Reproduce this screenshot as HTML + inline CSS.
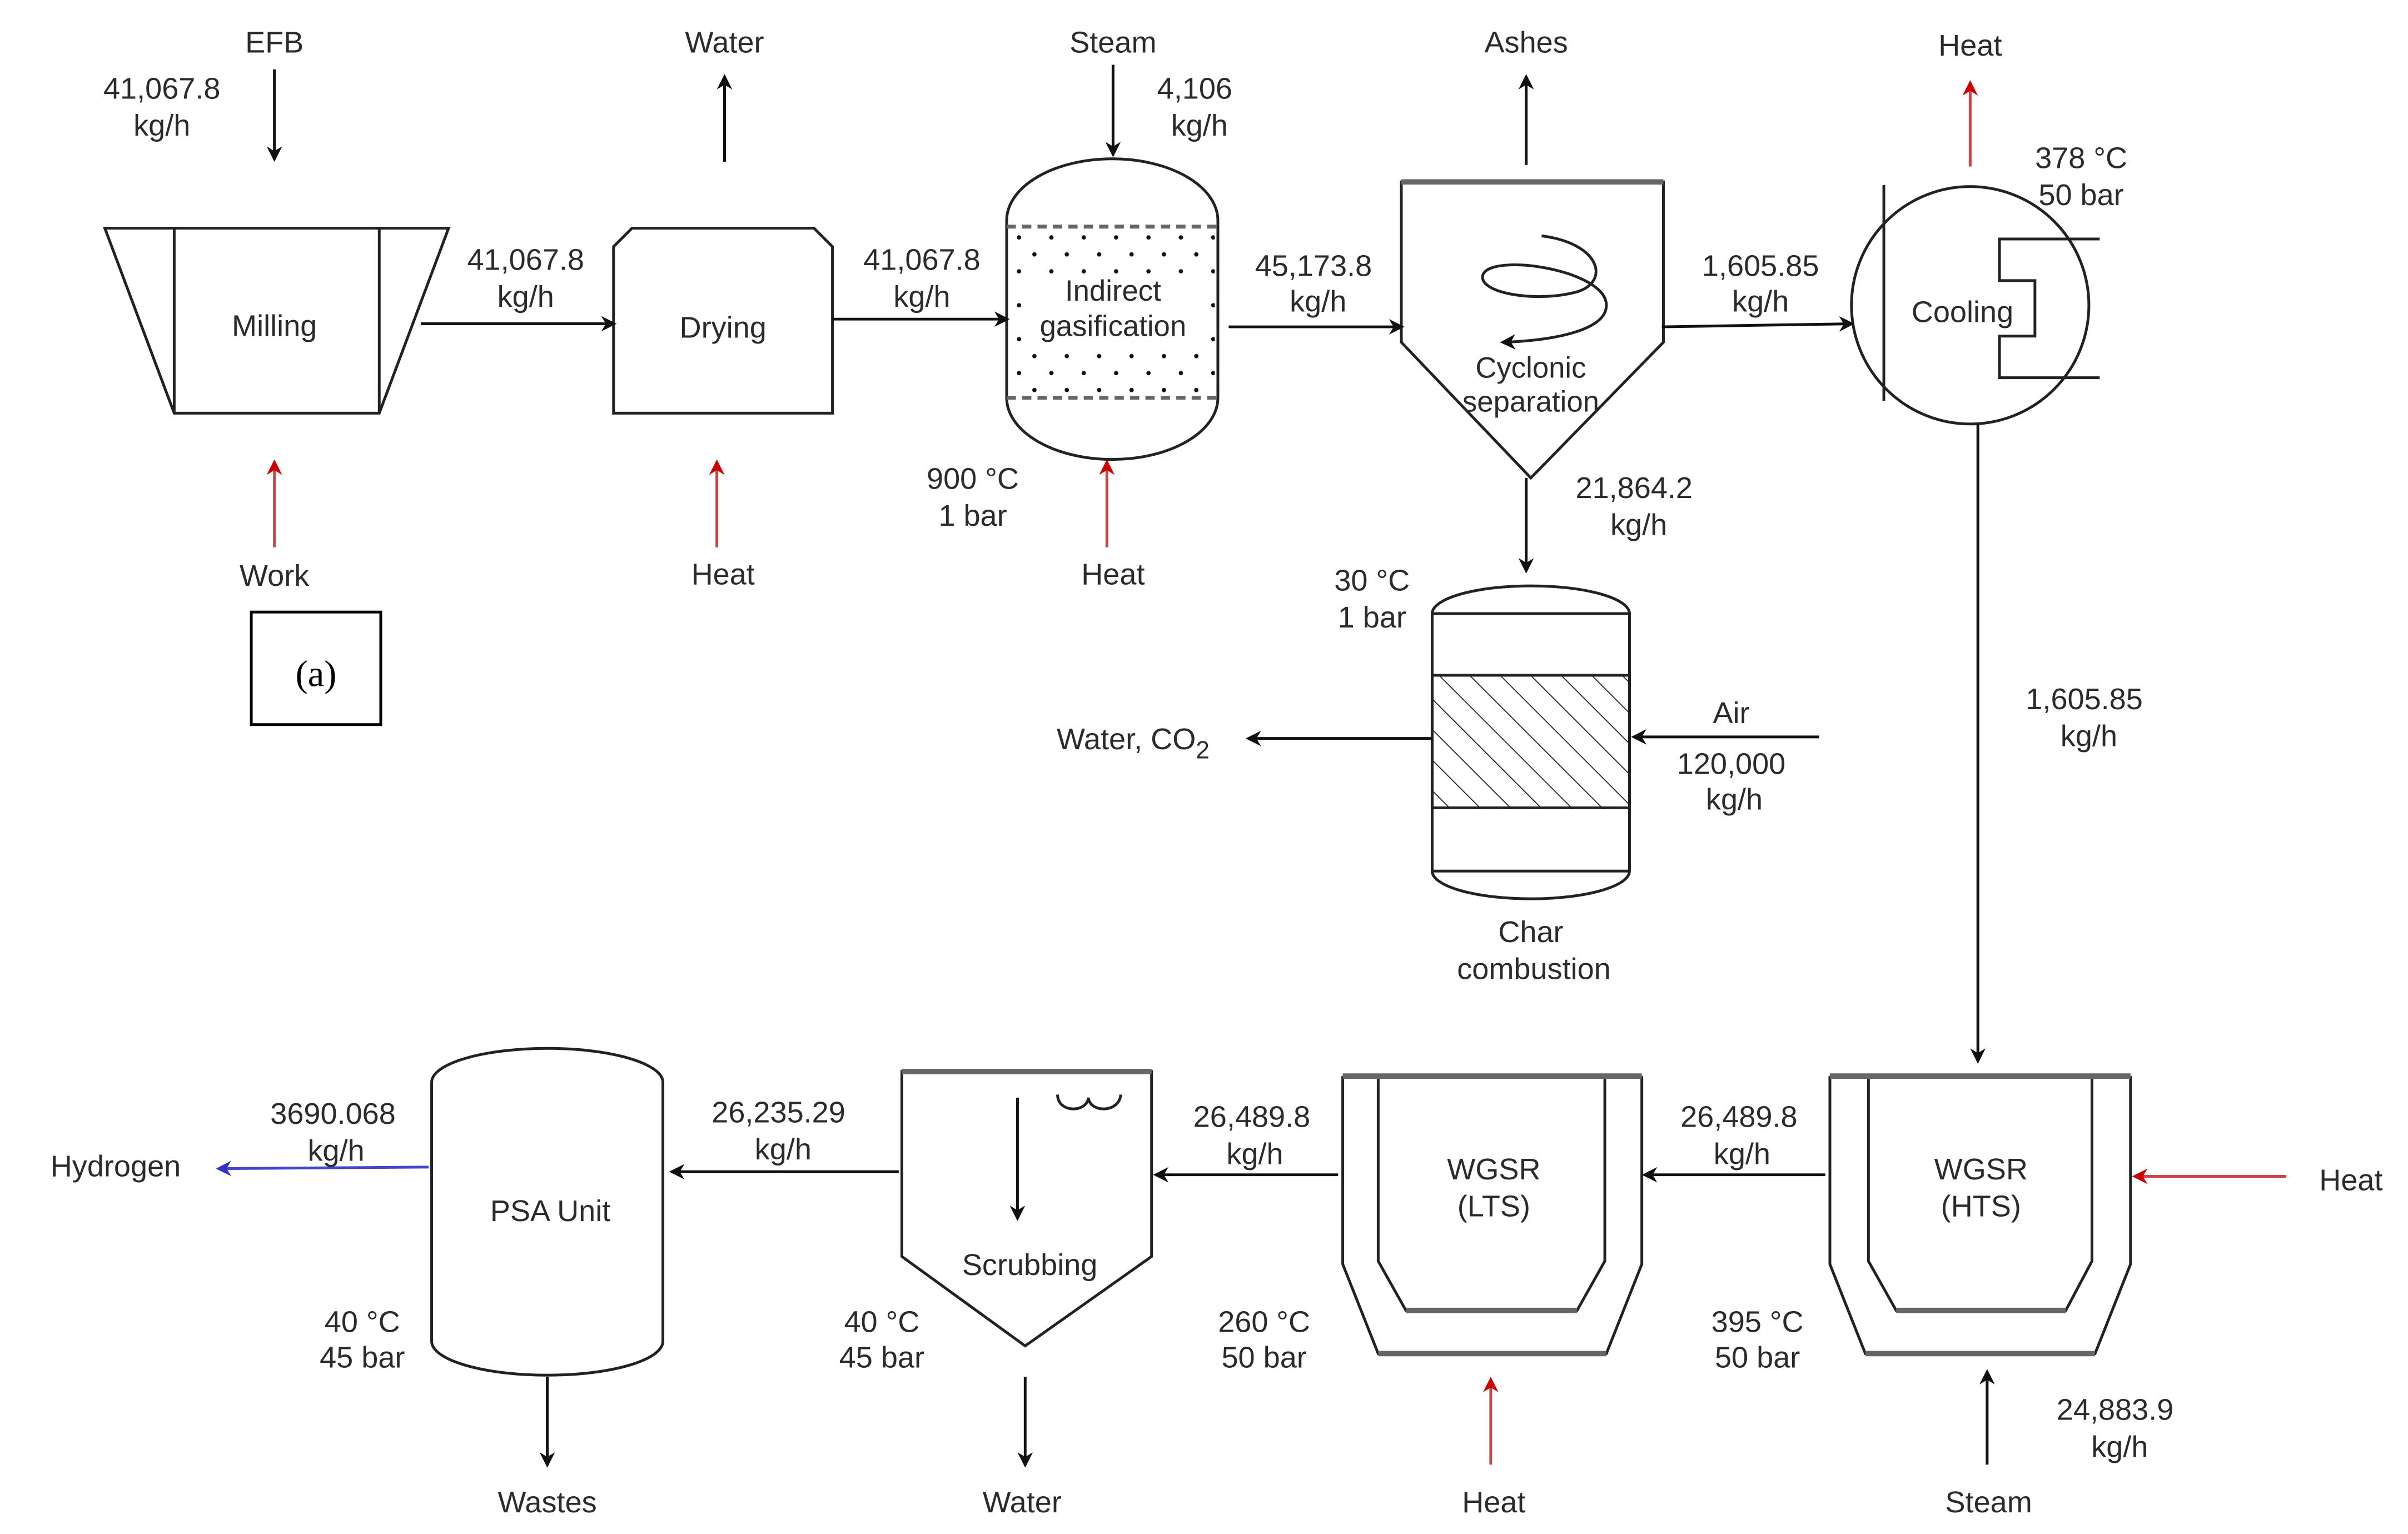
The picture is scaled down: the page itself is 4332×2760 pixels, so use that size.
<!DOCTYPE html>
<html><head><meta charset="utf-8"><style>
html,body{margin:0;padding:0;background:#fff}
svg{display:block}
text{font-family:"Liberation Sans",sans-serif;font-size:19.5px;fill:#2b2b2b;text-anchor:middle}
</style></head><body>
<svg width="4332" height="2760" viewBox="0 0 1562 995" preserveAspectRatio="none" xmlns="http://www.w3.org/2000/svg">
<defs>
<marker id="ak" markerWidth="10" markerHeight="10" refX="8" refY="5" orient="auto" markerUnits="userSpaceOnUse"><path d="M0,0 L10,5 L0,10 L3,5 Z" fill="#111"/></marker>
<marker id="ar" markerWidth="10" markerHeight="10" refX="8" refY="5" orient="auto" markerUnits="userSpaceOnUse"><path d="M0,0 L10,5 L0,10 L3,5 Z" fill="#c00"/></marker>
<marker id="ab" markerWidth="10" markerHeight="10" refX="8" refY="5" orient="auto" markerUnits="userSpaceOnUse"><path d="M0,0 L10,5 L0,10 L3,5 Z" fill="#33c"/></marker>
<pattern id="hatch" width="14" height="14" patternUnits="userSpaceOnUse" patternTransform="rotate(-45)"><line x1="0" y1="0" x2="0" y2="14" stroke="#222" stroke-width="1.3"/></pattern>
<pattern id="dots" width="21" height="22" patternUnits="userSpaceOnUse" x="657" y="150"><circle cx="4" cy="4" r="1.4" fill="#111"/><circle cx="14" cy="15" r="1.4" fill="#111"/></pattern>
</defs>
<g fill="none" stroke="#222" stroke-width="1.8">
<polygon points="68,148 291,148 246,268 113,268"/>
<line x1="113" y1="148" x2="113" y2="268"/><line x1="246" y1="148" x2="246" y2="268"/>
<polygon points="398,160 410,148 528,148 540,160 540,268 398,268"/>
<rect x="655" y="147" width="133" height="111" fill="url(#dots)" stroke="none"/>
<rect x="665" y="178" width="114" height="46" fill="#fff" stroke="none"/>
<path d="M653,143 A68.5,40 0 0 1 790,143 L790,258 A68.5,40 0 0 1 653,258 Z"/>
<line x1="653" y1="147" x2="790" y2="147" stroke-dasharray="6,4" stroke="#666" stroke-width="2.5"/>
<line x1="653" y1="258" x2="790" y2="258" stroke-dasharray="6,4" stroke="#666" stroke-width="2.5"/>
<path d="M909,118 L1079,118 L1079,222 L993,310 L909,222 Z"/>
<line x1="909" y1="118" x2="1079" y2="118" stroke="#666" stroke-width="3.5"/>
<path d="M1000,153 C1040,158 1045,185 1020,190 C995,196 958,190 962,178 C968,164 1042,175 1042,198 C1042,215 1005,221 975,222" marker-end="url(#ak)"/>
<circle cx="1278" cy="198" r="77"/>
<line x1="1222" y1="120" x2="1222" y2="260"/>
<polyline points="1362,155 1297,155 1297,182 1320,182 1320,218 1297,218 1297,245 1362,245"/>
<path d="M929,398 A64,18 0 0 1 1057,398 L1057,565 A64,18 0 0 1 929,565 Z"/>
<line x1="929" y1="398" x2="1057" y2="398"/><line x1="929" y1="565" x2="1057" y2="565"/>
<rect x="929" y="438" width="128" height="86" fill="url(#hatch)"/>
<path d="M1187,698 L1187,820 L1210,878 L1359,878 L1382,820 L1382,698"/>
<path d="M1212,698 L1212,818 L1230,850 L1340,850 L1357,818 L1357,698"/>
<line x1="1187" y1="698" x2="1382" y2="698" stroke="#666" stroke-width="3.5"/>
<line x1="1230" y1="850" x2="1340" y2="850" stroke="#666" stroke-width="3.5"/>
<line x1="1210" y1="878" x2="1359" y2="878" stroke="#666" stroke-width="3.5"/>
<path d="M871,698 L871,820 L894,878 L1042,878 L1065,820 L1065,698"/>
<path d="M894,698 L894,818 L912,850 L1023,850 L1041,818 L1041,698"/>
<line x1="871" y1="698" x2="1065" y2="698" stroke="#666" stroke-width="3.5"/>
<line x1="912" y1="850" x2="1023" y2="850" stroke="#666" stroke-width="3.5"/>
<line x1="894" y1="878" x2="1042" y2="878" stroke="#666" stroke-width="3.5"/>
<path d="M585,695 L747,695 L747,815 L665,873 L585,815 Z"/>
<line x1="585" y1="695" x2="747" y2="695" stroke="#666" stroke-width="3.5"/>
<path d="M686,710 C686,722 705,722 706,712 C707,722 726,722 727,710"/>
<path d="M280,702 A75,22 0 0 1 430,702 L430,870 A75,22 0 0 1 280,870 Z"/>
<rect x="163" y="397" width="84" height="73" stroke="#000"/>
</g>
<g stroke="#111" stroke-width="1.8" fill="none" marker-end="url(#ak)">
<line x1="178" y1="45" x2="178" y2="103"/>
<line x1="273" y1="210" x2="398" y2="210"/>
<line x1="470" y1="105" x2="470" y2="50"/>
<line x1="540" y1="207" x2="653" y2="207"/>
<line x1="722" y1="42" x2="722" y2="100"/>
<line x1="797" y1="212" x2="909" y2="212"/>
<line x1="990" y1="107" x2="990" y2="50"/>
<line x1="1078" y1="212" x2="1201" y2="210"/>
<line x1="1283" y1="275" x2="1283" y2="688"/>
<line x1="990" y1="310" x2="990" y2="370"/>
<line x1="1180" y1="478" x2="1060" y2="478"/>
<line x1="929" y1="479" x2="810" y2="479"/>
<line x1="1289" y1="950" x2="1289" y2="890"/>
<line x1="1184" y1="762" x2="1067" y2="762"/>
<line x1="868" y1="762" x2="750" y2="762"/>
<line x1="660" y1="712" x2="660" y2="790"/>
<line x1="665" y1="893" x2="665" y2="950"/>
<line x1="583" y1="760" x2="436" y2="760"/>
<line x1="355" y1="893" x2="355" y2="950"/>
</g>
<g stroke="#c44" stroke-width="1.8" marker-end="url(#ar)">
<line x1="178" y1="355" x2="178" y2="300"/>
<line x1="465" y1="355" x2="465" y2="300"/>
<line x1="718" y1="355" x2="718" y2="300"/>
<line x1="1278" y1="108" x2="1278" y2="54"/>
<line x1="1483" y1="763" x2="1385" y2="763"/>
<line x1="967" y1="950" x2="967" y2="895"/>
</g>
<line x1="278" y1="757" x2="142" y2="758" stroke="#44c" stroke-width="1.8" marker-end="url(#ab)"/>
<g>
<text x="178" y="34">EFB</text>
<text x="105" y="64">41,067.8</text><text x="105" y="88">kg/h</text>
<text x="178" y="218">Milling</text>
<text x="178" y="380">Work</text>
<text x="205" y="445" style="font-family:'Liberation Serif',serif;font-size:24px;fill:#000">(a)</text>
<text x="341" y="175">41,067.8</text><text x="341" y="199">kg/h</text>
<text x="470" y="34">Water</text>
<text x="469" y="219">Drying</text>
<text x="469" y="379">Heat</text>
<text x="598" y="175">41,067.8</text><text x="598" y="199">kg/h</text>
<text x="722" y="34">Steam</text>
<text x="775" y="64">4,106</text><text x="778" y="88">kg/h</text>
<text x="722" y="195" style="font-size:19px">Indirect</text><text x="722" y="218" style="font-size:19px">gasification</text>
<text x="631" y="317">900 °C</text><text x="631" y="341">1 bar</text>
<text x="722" y="379">Heat</text>
<text x="852" y="179">45,173.8</text><text x="855" y="202">kg/h</text>
<text x="990" y="34">Ashes</text>
<text x="993" y="245" style="font-size:19px">Cyclonic</text><text x="993" y="267" style="font-size:19px">separation</text>
<text x="1142" y="179">1,605.85</text><text x="1142" y="202">kg/h</text>
<text x="1278" y="36">Heat</text>
<text x="1350" y="109">378 °C</text><text x="1350" y="133">50 bar</text>
<text x="1273" y="209">Cooling</text>
<text x="1060" y="323">21,864.2</text><text x="1063" y="347">kg/h</text>
<text x="890" y="383">30 °C</text><text x="890" y="407">1 bar</text>
<text x="1123" y="469">Air</text><text x="1123" y="502">120,000</text><text x="1125" y="525">kg/h</text>
<text x="735" y="486">Water, CO<tspan dy="6" style="font-size:16px">2</tspan></text>
<text x="993" y="611">Char</text><text x="995" y="635">combustion</text>
<text x="1352" y="460">1,605.85</text><text x="1355" y="484">kg/h</text>
<text x="1285" y="765">WGSR</text><text x="1285" y="789">(HTS)</text>
<text x="1525" y="772">Heat</text>
<text x="1140" y="864">395 °C</text><text x="1140" y="887">50 bar</text>
<text x="1372" y="921">24,883.9</text><text x="1375" y="945">kg/h</text>
<text x="1290" y="981">Steam</text>
<text x="1128" y="731">26,489.8</text><text x="1130" y="755">kg/h</text>
<text x="969" y="765">WGSR</text><text x="969" y="789">(LTS)</text>
<text x="820" y="864">260 °C</text><text x="820" y="887">50 bar</text>
<text x="969" y="981">Heat</text>
<text x="812" y="731">26,489.8</text><text x="814" y="755">kg/h</text>
<text x="668" y="827">Scrubbing</text>
<text x="572" y="864">40 °C</text><text x="572" y="887">45 bar</text>
<text x="663" y="981">Water</text>
<text x="505" y="728">26,235.29</text><text x="508" y="752">kg/h</text>
<text x="357" y="792">PSA Unit</text>
<text x="235" y="864">40 °C</text><text x="235" y="887">45 bar</text>
<text x="355" y="981">Wastes</text>
<text x="216" y="729">3690.068</text><text x="218" y="753">kg/h</text>
<text x="75" y="763">Hydrogen</text>
</g>
</svg>
</body></html>
